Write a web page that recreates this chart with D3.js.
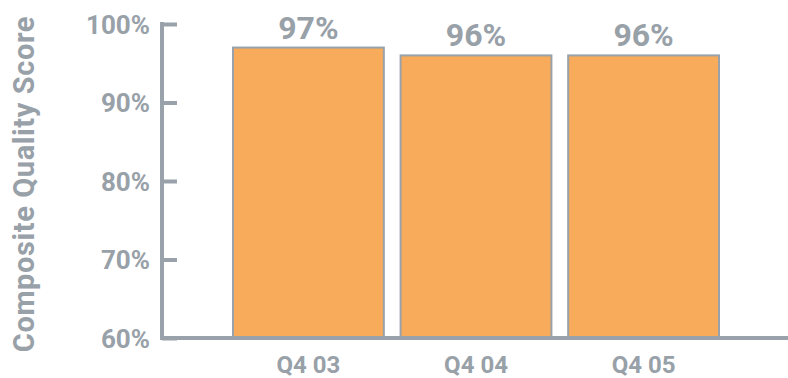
<!DOCTYPE html>
<html>
<head>
<meta charset="utf-8">
<script src="https://cdn.jsdelivr.net/npm/d3@7"></script>
<style>
  html, body { margin: 0; padding: 0; background: #fff; }
  svg text { font-family: Roboto, "DejaVu Sans", sans-serif; font-weight: 700; fill: #98a0a8; }
</style>
</head>
<body>
<svg id="chart" width="788" height="378"></svg>
<script>
// Quarterly composite quality scores
const quarters = ["Q4 03", "Q4 04", "Q4 05"];
const scores = [97, 96, 96];
const yTicks = [60, 70, 80, 90, 100];
const axisTitle = "Composite Quality Score";

const svg = d3.select("#chart");
const grey = "#99a2aa";

const y = d3.scaleLinear().domain([60, 100]).range([338, 24]);
const x = d3.scaleBand().domain(quarters).range([233, 719])
  .paddingInner(0.1).paddingOuter(0);

// bars
svg.append("g").selectAll("rect")
  .data(quarters)
  .join("rect")
  .attr("x", d => x(d))
  .attr("width", x.bandwidth())
  .attr("y", (d, i) => y(scores[i]))
  .attr("height", (d, i) => y(60) - y(scores[i]))
  .attr("fill", "#f7ab5b")
  .attr("stroke", grey)
  .attr("stroke-width", 2);

// value labels
svg.append("g").selectAll("text")
  .data(quarters)
  .join("text")
  .attr("x", d => x(d) + x.bandwidth() / 2)
  .attr("y", (d, i) => y(scores[i]) - 9)
  .attr("text-anchor", "middle")
  .attr("font-size", 32)
  .text((d, i) => scores[i] + "%");

// y axis
const yAxis = d3.axisLeft(y).tickValues(yTicks)
  .tickFormat(d => d + "%").tickSize(-15).tickPadding(12);
const gy = svg.append("g").attr("transform", "translate(162,0)").call(yAxis);
gy.select(".domain").remove();
gy.selectAll(".tick line").attr("stroke", grey).attr("stroke-width", 4);
gy.selectAll(".tick text").attr("font-size", 26).attr("dy", "0.36em")
  .attr("fill", "#98a0a8");
svg.append("line")
  .attr("x1", 162).attr("x2", 162)
  .attr("y1", y(100) - 2).attr("y2", y(60) + 2)
  .attr("stroke", grey).attr("stroke-width", 4);

// baseline and category axis
const xAxis = d3.axisBottom(x).tickSize(0).tickPadding(18);
const gx = svg.append("g").attr("transform", `translate(0,${y(60)})`).call(xAxis);
gx.select(".domain").remove();
gx.selectAll(".tick text").attr("font-size", 24).attr("dy", "0.71em")
  .attr("fill", "#98a0a8");
svg.append("line")
  .attr("x1", 160).attr("x2", 788)
  .attr("y1", y(60)).attr("y2", y(60))
  .attr("stroke", grey).attr("stroke-width", 4);

// axis title
svg.append("text")
  .attr("transform", "translate(34,184) rotate(-90)")
  .attr("text-anchor", "middle")
  .attr("font-size", 29)
  .attr("letter-spacing", 0.6)
  .text(axisTitle);
</script>
</body>
</html>
